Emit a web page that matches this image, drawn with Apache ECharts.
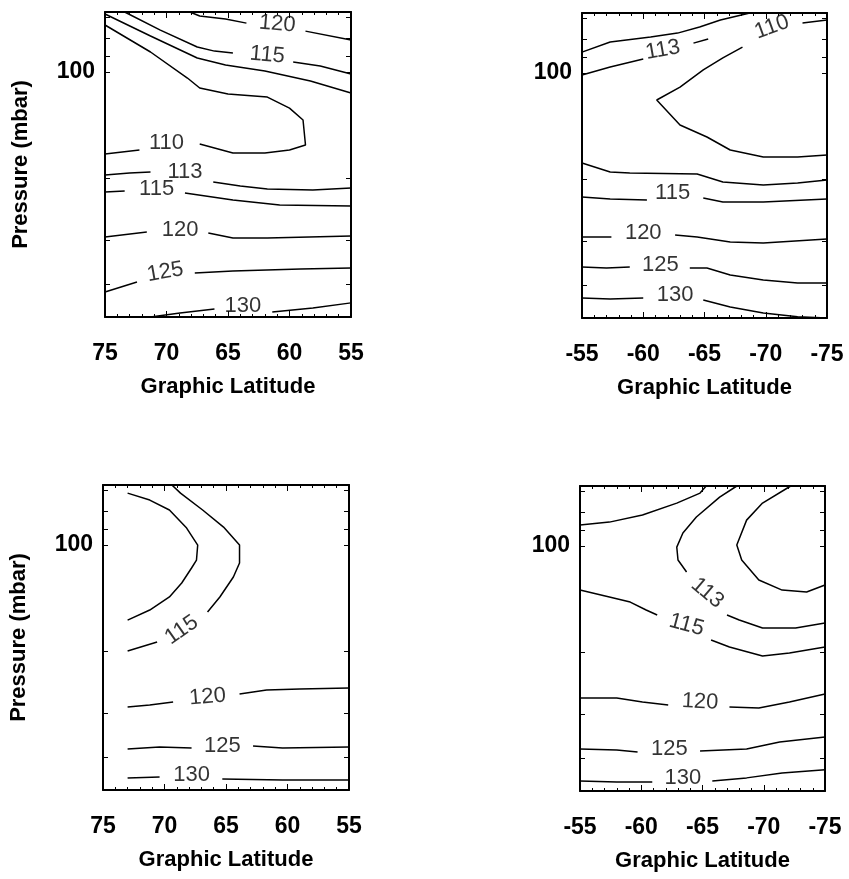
<!DOCTYPE html>
<html><head><meta charset="utf-8">
<script src="https://cdn.jsdelivr.net/npm/echarts@6/dist/echarts.min.js"></script>
<style>html,body{margin:0;padding:0;background:#fff}#c{width:849px;height:879px}</style>
</head><body><div id="c"></div>
<script>
// ---- axes ----
const pMin = 67.5, pMax = 497;                 // pressure range (mbar), log axis
const yTickValues = [70, 80, 90, 100, 200, 300, 400];
const yLabelValues = [100];
const nhLatRange = [55, 75];
const shLatRange = [-75, -55];
const latInterval = 5;
const xTitle = 'Graphic Latitude';
const yTitle = 'Pressure (mbar)';

// ---- contour polylines: [latitude, pressure] ; each inner array is one drawn segment ----
const nhTopLines = [
  [[68.1,67.5],[67.3,69.3],[65.2,70.7],[63.5,72.6]],
  [[58.7,76.5],[55,81.1]],
  [[73.4,67.5],[70.5,76.0],[67.5,84.9],[66.1,87.2],[64.6,88.3]],
  [[59.7,93.7],[57.5,96.1],[55,101.3]],
  [[75,68.4],[71.3,79.0],[67.5,91.2],[65.2,95.5],[62.0,99.3],[58.3,106.1],[55,114.7]],
  [[75,73.5],[71.3,87.7],[68.3,104.0],[67.3,111.0],[65.0,115.5],[61.8,117.8],[60.0,126.6],[58.9,136.9],[58.7,161.2],[60.0,166.5],[62.0,169.9],[64.6,169.9],[67.3,160.2]],
  [[72.2,166.5],[75,171.0]],
  [[75,196.2],[73.0,193.6],[71.3,192.4]],
  [[66.2,205.4],[64.0,210.8],[61.8,214.9],[58.1,216.4],[55,213.5]],
  [[75,219.3],[73.4,217.8]],
  [[68.5,220.7],[64.6,231.0],[60.8,238.7],[55,240.3]],
  [[75,294.5],[71.6,285.0]],
  [[66.6,286.7],[64.6,296.2],[61.8,296.2],[55,292.4]],
  [[75,422.1],[72.4,395.3]],
  [[67.7,372.4],[64.6,367.5],[59.1,362.8],[55,360.4]],
  [[71.3,497],[68.9,483.9],[66.1,471.4]],
  [[61.4,481.1],[58.1,468.3],[55,453.1]]
];
const nhTopLabels = [['120',61.0,73.0],['115',61.8,89.5],['110',70.0,159.1],['113',68.5,192.4],['115',70.8,214.9],['120',68.9,281.1],['125',70.1,370.3],['130',63.8,462.2]];

const shTopLines = [
  [[-55,87.2],[-57.3,81.6],[-60.6,79.0],[-62.8,77.0],[-64.6,74.0],[-66.3,70.7],[-68.7,67.5]],
  [[-55,101.3],[-57.3,96.1],[-60.0,91.2]],
  [[-64.1,82.2],[-65.3,80.0]],
  [[-73.0,72.1],[-75,70.7]],
  [[-68.1,84.4],[-66.5,90.6],[-64.9,98.0],[-63.0,109.6],[-61.1,119.3],[-63.0,140.5],[-65.2,152.0],[-67.1,165.5],[-69.8,173.2],[-72.6,173.2],[-75,171.0]],
  [[-55,180.2],[-57.3,191.1],[-58.9,192.4],[-64.4,193.6],[-66.5,204.0],[-69.8,208.0],[-72.6,205.4],[-75,201.4]],
  [[-55,225.0],[-57.3,228.0],[-60.3,229.5]],
  [[-64.9,226.6],[-66.5,232.5],[-69.8,232.5],[-75,228.0]],
  [[-55,292.4],[-57.4,292.4]],
  [[-62.6,288.5],[-64.4,292.4],[-67.1,302.1],[-69.8,304.3],[-75,296.2]],
  [[-55,355.7],[-57.0,358.4],[-58.9,355.7]],
  [[-63.8,358.4],[-65.2,358.4],[-67.1,374.9],[-69.8,387.4],[-72.6,395.3],[-75,395.3]],
  [[-55,436.1],[-57.3,438.6],[-60.0,436.1]],
  [[-64.9,441.5],[-67.1,462.2],[-69.8,481.1],[-72.6,493.3],[-75,497]]
];
const shTopLabels = [['113',-61.6,86.0],['110',-70.5,74.0],['115',-62.4,219.3],['120',-60.0,285.0],['125',-61.4,351.1],['130',-62.6,427.3]];

const nhBotLines = [
  [[73.0,71.2],[71.2,74.5],[69.6,79.5],[68.2,89.5],[67.3,100],[67.4,110.3],[67.8,116.2],[68.6,128.2],[69.6,140.5],[71.2,153.0],[73.0,163.4]],
  [[69.4,67.5],[68.7,71.2],[66.9,79.5],[65.2,88.9],[63.9,100],[63.9,112.5],[64.4,123.3],[65.5,140.5],[66.5,155.0]],
  [[70.6,188.6],[73.0,200.0]],
  [[73.0,288.5],[71.2,285.0],[69.3,279.3]],
  [[63.9,265.1],[61.7,258.3],[59.0,256.6],[55,254.9]],
  [[73.0,379.8],[70.4,374.9],[67.8,377.4]],
  [[62.8,372.4],[60.4,377.4],[55,374.9]],
  [[73.0,459.1],[70.4,456.1]],
  [[65.3,462.2],[60.4,465.6],[55,465.6]]
];
const nhBotLabels = [['115',68.6,174.4],['120',66.5,270.3],['125',65.3,372.4],['130',67.8,450.6]];

const shBotLines = [
  [[-55,87.2],[-57.4,85.5],[-60.1,81.6],[-62.9,75.5],[-64.8,70.7],[-65.3,67.5]],
  [[-67.8,67.5],[-66.4,72.6],[-64.5,82.7],[-63.4,91.8],[-62.9,100.7],[-63.0,109.6],[-63.7,118.5]],
  [[-67.0,157.1],[-68.0,162.3],[-69.9,171.0],[-72.6,171.0],[-75,165.5]],
  [[-72.2,67.5],[-69.9,75.5],[-68.6,84.4],[-67.8,99.3],[-68.2,109.6],[-69.6,124.9],[-71.5,133.4],[-73.5,135.1],[-75,129.1]],
  [[-55,133.4],[-57.4,139.6],[-59.1,144.3],[-60.4,152.0],[-61.3,157.1]],
  [[-65.7,184.9],[-67.2,193.6],[-69.9,205.4],[-72.1,201.4],[-75,193.6]],
  [[-55,270.3],[-58.0,270.3],[-60.1,277.5],[-62.2,283.0]],
  [[-67.2,286.7],[-69.6,288.5],[-72.1,277.5],[-75,263.4]],
  [[-55,377.4],[-58.0,379.8],[-59.7,384.8]],
  [[-64.8,382.6],[-68.6,377.4],[-71.3,360.4],[-75,348.8]],
  [[-55,465.6],[-58.0,468.3],[-60.9,468.3]],
  [[-65.8,465.6],[-68.6,456.1],[-71.5,441.5],[-75,432.8]]
];
const shBotLabels = [['113',-65.4,136.0],['115',-63.7,167.6],['120',-64.8,277.5],['125',-62.3,377.4],['130',-63.4,456.1]];

// ---- styling (kept separate from data) ----
const FONT = '"Liberation Sans", Arial, Helvetica, sans-serif';
const labelAngles = {
  nhTop: [-5,-5,0,0,0,0,10,0],
  shTop: [10,20,0,0,0,0],
  nhBot: [35,5,0,0],
  shBot: [-40,-15,-3,0,0]
};
const panels = [
  {lines: nhTopLines, labels: nhTopLabels, angles: labelAngles.nhTop, lat: nhLatRange, yName: true,  box:{left:105, top:12,  width:246, height:305}},
  {lines: shTopLines, labels: shTopLabels, angles: labelAngles.shTop, lat: shLatRange, yName: false, box:{left:582, top:13,  width:245, height:305}},
  {lines: nhBotLines, labels: nhBotLabels, angles: labelAngles.nhBot, lat: nhLatRange, yName: true,  box:{left:103, top:485, width:246, height:305}},
  {lines: shBotLines, labels: shBotLabels, angles: labelAngles.shBot, lat: shLatRange, yName: false, box:{left:580, top:486, width:245, height:305}}
];

const grid = [], xAxis = [], yAxis = [], series = [];
const axisLine = {show: true, onZero: false, lineStyle: {color: '#000', width: 2}};
panels.forEach((pn, i) => {
  grid.push(Object.assign({containLabel: false}, pn.box));
  const xBase = {
    gridIndex: i, type: 'value', min: pn.lat[0], max: pn.lat[1], interval: latInterval, inverse: true,
    axisLine: axisLine, splitLine: {show: false}, minorSplitLine: {show: false},
    axisTick: {show: true, inside: true, length: 6, lineStyle: {color: '#000', width: 1}},
    minorTick: {show: true, splitNumber: 5, length: 3, lineStyle: {color: '#000', width: 1}}
  };
  xAxis.push(Object.assign({}, xBase, {
    position: 'bottom',
    axisLabel: {show: true, margin: 25, fontSize: 23, fontWeight: 'bold', color: '#000', fontFamily: FONT},
    name: xTitle, nameLocation: 'middle', nameGap: 59,
    nameTextStyle: {fontSize: 22, fontWeight: 'bold', color: '#000', fontFamily: FONT}
  }));
  xAxis.push(Object.assign({}, xBase, {position: 'top', axisLabel: {show: false}}));
  const yBase = {
    gridIndex: i, type: 'log', logBase: 10, min: pMin, max: pMax, inverse: true,
    axisLine: axisLine, splitLine: {show: false},
    axisTick: {show: true, inside: true, length: 5, customValues: yTickValues, lineStyle: {color: '#000', width: 1}}
  };
  yAxis.push(Object.assign({}, yBase, {
    position: 'left',
    axisLabel: {show: true, customValues: yLabelValues, margin: 10, fontSize: 23, fontWeight: 'bold', color: '#000', fontFamily: FONT},
    name: pn.yName ? yTitle : '', nameLocation: 'middle', nameGap: 73,
    nameTextStyle: {fontSize: 22, fontWeight: 'bold', color: '#000', fontFamily: FONT}
  }));
  yAxis.push(Object.assign({}, yBase, {position: 'right', axisLabel: {show: false}}));
  pn.lines.forEach(seg => {
    series.push({
      type: 'line', xAxisIndex: 2*i, yAxisIndex: 2*i, data: seg,
      symbol: 'none', showSymbol: false, silent: true, animation: false,
      lineStyle: {color: '#000', width: 1.5}
    });
  });
  series.push({
    type: 'scatter', xAxisIndex: 2*i, yAxisIndex: 2*i, symbolSize: 0, silent: true, animation: false,
    data: pn.labels.map((l, k) => ({name: l[0], value: [l[1], l[2]], label: {rotate: pn.angles[k]}})),
    label: {show: true, position: 'inside', formatter: '{b}', fontSize: 22, color: '#000', fontFamily: FONT}
  });
});

const chart = echarts.init(document.getElementById('c'), null, {renderer: 'canvas'});
chart.setOption({
  backgroundColor: '#fff', animation: false,
  textStyle: {fontFamily: FONT},
  grid, xAxis, yAxis, series
});
</script>
</body></html>
